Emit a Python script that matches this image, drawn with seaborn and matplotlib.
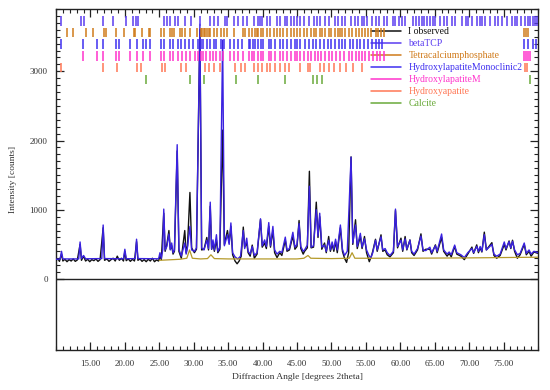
import pandas as pd
import matplotlib
matplotlib.use("Agg")
import matplotlib.pyplot as plt
import seaborn as sns
from matplotlib.lines import Line2D
from matplotlib.ticker import FixedLocator, MultipleLocator

# -------------------------------
# Pattern data (2theta, counts)
# -------------------------------

observed_points = [
    (10.0, 270), (10.3, 290), (10.5, 255), (10.8, 360), (11.0, 260), (11.3, 285),
    (11.6, 250), (11.9, 280), (12.2, 260), (12.5, 290), (12.8, 255), (13.1, 275),
    (13.5, 500), (13.7, 270), (14.0, 330), (14.3, 260), (14.6, 285), (14.9, 250),
    (15.2, 280), (15.5, 265), (15.8, 290), (16.1, 255), (16.4, 280), (16.85, 740),
    (17.05, 270), (17.4, 290), (17.7, 255), (18.0, 280), (18.3, 300), (18.6, 260),
    (18.9, 330), (19.2, 270), (19.5, 300), (19.8, 260), (20.0, 400), (20.2, 265),
    (20.5, 290), (20.8, 255), (21.1, 285), (21.4, 260), (21.7, 540), (21.9, 270),
    (22.2, 290), (22.5, 255), (22.8, 280), (23.1, 250), (23.4, 285), (23.7, 260),
    (24.0, 300), (24.3, 250), (24.6, 275), (24.9, 260), (25.1, 330), (25.3, 280),
    (25.65, 950), (25.85, 400), (26.1, 500), (26.4, 700), (26.6, 430), (26.8, 480),
    (27.0, 360), (27.2, 400), (27.6, 1850), (27.85, 400), (28.2, 300), (28.7, 700),
    (28.9, 380), (29.1, 480), (29.45, 1250), (29.7, 450), (30.1, 380), (30.4, 430),
    (30.9, 3600), (31.15, 420), (31.5, 430), (31.9, 600), (32.15, 420), (32.4, 1050),
    (32.6, 430), (32.8, 520), (33.0, 400), (33.3, 560), (33.5, 380), (33.8, 430),
    (34.2, 2150), (34.45, 500), (34.9, 700), (35.15, 520), (35.4, 760), (35.65, 350),
    (36.0, 260), (36.3, 220), (36.6, 260), (36.9, 330), (37.2, 750), (37.4, 460),
    (37.7, 520), (37.9, 380), (38.2, 330), (38.5, 490), (38.8, 300), (39.2, 360),
    (39.7, 860), (39.95, 460), (40.3, 520), (40.55, 440), (40.9, 760), (41.15, 460),
    (41.5, 700), (41.75, 380), (42.1, 310), (42.5, 380), (42.8, 340), (43.3, 560),
    (43.55, 400), (43.9, 420), (44.4, 620), (44.7, 430), (45.0, 470), (45.3, 845),
    (45.55, 440), (45.9, 360), (46.1, 400), (46.5, 450), (46.8, 1556), (47.05, 450),
    (47.4, 460), (47.8, 1110), (48.05, 600), (48.3, 900), (48.6, 430), (49.0, 520),
    (49.25, 380), (49.6, 614), (49.85, 400), (50.1, 500), (50.35, 400), (50.6, 540),
    (50.85, 380), (51.3, 740), (51.6, 400), (51.9, 300), (52.2, 240), (52.5, 380),
    (52.85, 1764), (53.1, 500), (53.5, 856), (53.75, 440), (54.2, 620), (54.45, 440),
    (54.8, 614), (55.1, 380), (55.5, 250), (55.8, 330), (56.0, 400), (56.4, 574),
    (56.65, 400), (57.2, 638), (57.45, 400), (57.8, 420), (58.1, 350), (58.5, 320),
    (59.0, 380), (59.3, 990), (59.6, 450), (60.1, 590), (60.35, 400), (60.7, 614),
    (60.95, 420), (61.4, 565), (61.65, 380), (62.0, 340), (62.5, 420), (63.0, 652),
    (63.3, 400), (63.7, 430), (64.3, 430), (64.55, 360), (65.1, 493), (65.35, 380),
    (66.0, 600), (66.3, 400), (66.8, 330), (67.1, 370), (67.4, 320), (67.9, 470),
    (68.2, 360), (68.8, 330), (69.3, 280), (69.8, 360), (70.4, 461), (70.65, 370),
    (71.1, 493), (71.35, 380), (71.6, 450), (71.85, 390), (72.2, 677), (72.5, 420),
    (73.3, 525), (73.6, 340), (74.0, 300), (74.5, 340), (75.1, 500), (75.35, 420),
    (75.8, 550), (76.05, 440), (76.3, 560), (76.6, 400), (77.0, 300), (77.4, 350),
    (78.0, 500), (78.3, 350), (78.7, 400), (79.0, 330), (79.4, 390), (80.0, 370),
]

calculated_points = [
    (10.0, 285), (10.6, 288), (10.8, 400), (11.0, 290), (13.3, 290), (13.5, 535),
    (13.7, 295), (14.0, 340), (14.3, 292), (16.65, 295), (16.85, 780), (17.05, 295),
    (19.8, 292), (20.0, 430), (20.2, 292), (21.5, 295), (21.7, 575), (21.9, 295),
    (24.9, 292), (25.1, 380), (25.3, 300), (25.5, 420), (25.65, 1010), (25.85, 420),
    (26.1, 470), (26.4, 650), (26.6, 420), (26.8, 520), (27.0, 380), (27.2, 420),
    (27.6, 1940), (27.85, 430), (28.2, 330), (28.7, 520), (28.9, 360), (29.1, 460),
    (29.45, 760), (29.7, 420), (30.1, 400), (30.4, 450), (30.9, 3680), (31.15, 450),
    (31.5, 420), (31.9, 560), (32.15, 440), (32.4, 1110), (32.6, 430), (32.8, 565),
    (33.0, 420), (33.3, 640), (33.5, 400), (33.8, 460), (34.2, 3450), (34.45, 480),
    (34.9, 640), (35.15, 500), (35.4, 810), (35.65, 380), (36.0, 320), (36.4, 290),
    (36.8, 330), (37.2, 700), (37.4, 440), (37.7, 590), (37.9, 400), (38.2, 360),
    (38.5, 470), (38.8, 340), (39.2, 380), (39.7, 870), (39.95, 480), (40.3, 565),
    (40.55, 470), (40.9, 815), (41.15, 480), (41.5, 760), (41.75, 420), (42.1, 360),
    (42.5, 400), (42.8, 380), (43.3, 605), (43.55, 420), (43.9, 440), (44.4, 675),
    (44.7, 460), (45.0, 500), (45.3, 800), (45.55, 470), (45.9, 400), (46.1, 420),
    (46.5, 490), (46.8, 1340), (47.05, 460), (47.4, 480), (47.8, 1000), (48.05, 620),
    (48.3, 950), (48.6, 460), (49.0, 490), (49.25, 400), (49.6, 560), (49.85, 420),
    (50.1, 535), (50.35, 430), (50.6, 575), (50.85, 420), (51.3, 780), (51.6, 430),
    (51.9, 340), (52.3, 400), (52.85, 1760), (53.1, 520), (53.5, 780), (53.75, 470),
    (54.2, 660), (54.45, 460), (54.8, 580), (55.1, 420), (55.4, 350), (55.7, 300),
    (56.0, 380), (56.4, 560), (56.65, 420), (57.2, 610), (57.45, 420), (57.8, 440),
    (58.1, 380), (58.5, 340), (59.0, 400), (59.3, 1010), (59.6, 470), (60.1, 560),
    (60.35, 420), (60.7, 580), (60.95, 430), (61.4, 560), (61.65, 400), (62.0, 360),
    (62.5, 440), (63.0, 620), (63.3, 420), (63.7, 410), (64.3, 460), (64.55, 380),
    (65.1, 480), (65.35, 400), (66.0, 650), (66.3, 420), (66.8, 360), (67.1, 390),
    (67.4, 350), (67.9, 490), (68.2, 380), (68.8, 350), (69.3, 310), (69.8, 380),
    (70.4, 440), (70.65, 380), (71.1, 470), (71.35, 400), (71.6, 470), (71.85, 400),
    (72.2, 640), (72.5, 420), (73.3, 500), (73.6, 360), (74.0, 330), (74.5, 360),
    (75.1, 535), (75.35, 440), (75.8, 540), (76.05, 450), (76.3, 545), (76.6, 420),
    (77.0, 350), (77.4, 370), (78.0, 520), (78.3, 370), (78.7, 420), (79.0, 360),
    (79.4, 400), (80.0, 380),
]

background_points = [
    (25.0, 270), (26.0, 275), (27.0, 280), (28.0, 285), (29.0, 300), (29.4, 420),
    (29.8, 300), (31.0, 290), (32.0, 295), (32.5, 350), (33.0, 295), (35.0, 290),
    (40.0, 290), (45.0, 290), (46.0, 300), (46.6, 340), (47.0, 300), (50.0, 295),
    (52.6, 300), (53.0, 380), (53.4, 300), (60.0, 300), (70.0, 305), (80.0, 315),
]

# -------------------------------
# Reflection positions (2theta) per phase
# -------------------------------

phase_names = [
    "betaTCP", "Tetracalciumphosphate", "HydroxylapatiteMonoclinic2",
    "HydroxylapatiteM", "Hydroxyapatite", "Calcite",
]

beta_tcp = [
    10.7, 13.6, 14.1, 16.8, 18.3, 20.1, 21.2, 21.6, 21.9, 25.65, 26.1, 26.5, 27.3,
    27.7, 28.7, 29.6, 30.96, 32.4, 33.0, 33.6, 34.6, 34.9, 35.8, 36.4, 37.1, 37.7,
    38.7, 39.4, 39.66, 39.9, 40.6, 41.1, 42.1, 42.6, 43.3, 43.5, 44.1, 44.6, 45.0,
    45.5, 46.0, 46.7, 47.4, 47.9, 48.4, 49.1, 49.6, 50.5, 51.0, 51.5, 52.0, 52.9,
    53.4, 53.9, 54.4, 54.7, 55.2, 55.9, 56.4, 56.9, 57.6, 58.1, 59.0, 59.3, 59.8,
    60.3, 60.7, 61.9, 62.3, 62.7, 63.1, 63.5, 63.9, 64.3, 64.7, 65.1, 65.8, 66.3,
    66.8, 67.5, 68.0, 68.9, 69.5, 69.9, 70.4, 71.1, 71.6, 71.9, 72.3, 73.0, 73.8,
    74.2, 74.7, 75.5, 76.2, 76.7, 77.0, 77.6, 78.1, 78.6, 78.8, 79.2, 79.6, 79.9,
]

tetracalcium = [
    11.6, 12.4, 14.4, 15.4, 16.95, 17.2, 18.65, 19.85, 21.3, 21.5, 22.5, 23.5, 23.7,
    25.3, 25.65, 26.6, 26.9, 27.2, 28.0, 28.3, 28.8, 29.4, 30.5, 31.0, 31.2, 31.45,
    31.7, 31.9, 32.2, 32.4, 33.0, 33.4, 33.9, 34.35, 34.8, 35.8, 37.2, 37.5, 38.0,
    38.4, 38.9, 39.2, 39.4, 39.7, 40.1, 40.6, 41.1, 41.6, 42.1, 42.6, 43.0, 43.5,
    44.1, 44.5, 45.0, 45.5, 46.0, 46.5, 47.1, 47.4, 47.8, 48.3, 48.6, 49.0, 49.6,
    50.0, 50.5, 51.0, 51.3, 51.6, 52.0, 52.5, 53.0, 53.5, 54.0, 54.4, 54.9, 55.3,
    55.8, 56.4, 56.8, 57.2, 57.7, 77.9, 78.2, 78.6,
]

hap_monoclinic = [
    10.7, 13.96, 16.0, 16.8, 18.65, 19.1, 20.7, 21.8, 22.65, 23.0, 23.6, 25.3, 25.75,
    26.5, 27.0, 27.7, 28.2, 28.8, 29.3, 29.9, 30.6, 31.0, 31.35, 31.9, 32.4, 32.9,
    33.3, 33.9, 34.35, 35.3, 35.8, 36.4, 37.0, 38.0, 38.2, 38.6, 38.9, 39.3, 39.7,
    40.1, 40.9, 41.2, 41.8, 42.6, 43.0, 43.5, 44.1, 44.7, 45.0, 45.5, 46.1, 46.8,
    47.3, 47.8, 48.4, 48.9, 49.5, 50.0, 50.5, 51.1, 51.5, 52.0, 52.75, 53.2, 53.7,
    54.2, 54.7, 55.3, 55.9, 56.4, 56.9, 57.4, 77.9, 78.6, 79.2, 79.7,
]

hap_m = [
    13.96, 16.0, 16.85, 18.65, 19.1, 20.7, 21.8, 22.65, 23.6, 25.3, 25.75, 26.5,
    27.0, 27.7, 28.3, 28.9, 29.5, 30.2, 30.6, 31.0, 31.35, 31.8, 32.3, 32.8, 33.3,
    33.75, 34.25, 35.3, 35.8, 36.5, 37.2, 38.0, 38.45, 38.8, 39.3, 39.7, 40.1, 40.9,
    41.2, 41.8, 42.6, 43.0, 43.5, 44.1, 44.7, 45.0, 45.5, 46.0, 46.6, 47.1, 47.6,
    48.1, 48.5, 49.1, 49.6, 50.1, 50.7, 51.3, 51.8, 52.5, 53.0, 53.5, 54.0, 54.4,
    54.9, 55.5, 56.0, 56.6, 57.1, 57.6, 77.9, 78.2, 78.6, 78.8,
]

hydroxyapatite = [
    10.8, 16.8, 18.9, 21.8, 22.3, 25.4, 25.9, 28.1, 28.9, 31.7, 32.2, 32.9, 33.75,
    36.0, 36.8, 37.5, 38.7, 39.3, 39.9, 40.6, 41.1, 41.8, 42.6, 43.2, 43.9, 45.4,
    46.6, 46.9, 48.3, 48.9, 49.6, 50.4, 51.3, 52.1, 53.1, 54.5, 78.1, 78.4,
]

calcite = [23.1, 29.4, 31.5, 36.1, 39.4, 43.2, 47.3, 47.9, 48.6, 78.8]

# -------------------------------
# Styles
# -------------------------------

phase_colors = ["#5a3cf0", "#d07a1a", "#3f2ff0", "#ff33cc", "#ff7755", "#6aaa3a"]
row_centers = [3725, 3558, 3393, 3220, 3052, 2885]
observed_color = "#111111"
calc_color = "#3a22e0"
background_color = "#b59a2a"

obs_df = pd.DataFrame(observed_points, columns=["angle", "counts"])
calc_df = pd.DataFrame(calculated_points, columns=["angle", "counts"])
bg_df = pd.DataFrame(background_points, columns=["angle", "counts"])

sns.set_theme(style="white")
plt.rcParams["font.family"] = ["Liberation Serif", "DejaVu Serif"]

fig = plt.figure(figsize=(5.5, 3.9), dpi=100)
ax = fig.add_axes([0.1018, 0.1026, 0.8764, 0.8744])

sns.lineplot(data=obs_df, x="angle", y="counts", ax=ax, color=observed_color,
             lw=1.0, sort=False, estimator=None, legend=False, zorder=3)
sns.lineplot(data=calc_df, x="angle", y="counts", ax=ax, color=calc_color,
             lw=1.0, sort=False, estimator=None, legend=False, zorder=4)
sns.lineplot(data=bg_df, x="angle", y="counts", ax=ax, color=background_color,
             lw=0.9, sort=False, estimator=None, legend=False, zorder=5)

ax.axhline(0, color="#222222", lw=1.0, zorder=2)

# reflection tick rows
phase_lists = [beta_tcp, tetracalcium, hap_monoclinic, hap_m, hydroxyapatite, calcite]
for positions, color, yc in zip(phase_lists, phase_colors, row_centers):
    ax.vlines(positions, yc - 68, yc + 68, colors=color, lw=1.1, zorder=6)

ax.set_xlim(10, 80)
ax.set_ylim(-1025, 3900)

ax.xaxis.set_major_locator(FixedLocator(list(range(15, 80, 5))))
ax.xaxis.set_minor_locator(MultipleLocator(1))
ax.set_xticklabels([f"{v:.2f}" for v in range(15, 80, 5)])
ax.yaxis.set_major_locator(FixedLocator([0, 1000, 2000, 3000]))
ax.yaxis.set_minor_locator(FixedLocator(list(range(0, 3901, 100))))
ax.set_yticklabels(["0", "1000", "2000", "3000"])

ax.tick_params(which="both", direction="in", top=True, right=True, bottom=True,
               left=True, color="#222222", labelcolor="#333333", labelsize=6.5)
ax.tick_params(which="major", length=5.5, width=0.9)
ax.tick_params(which="minor", length=2.8, width=0.8)
ax.tick_params(axis="x", pad=7)
ax.tick_params(axis="y", pad=6)

for side in ax.spines.values():
    side.set_color("#222222")
    side.set_linewidth(1.0)

ax.set_xlabel("Diffraction Angle [degrees 2theta]", fontsize=6.8, color="#333333", labelpad=4)
ax.set_ylabel("Intensity [counts]", fontsize=6.8, color="#333333", labelpad=9)

# legend
legend_names = ["I observed"] + phase_names
legend_colors = [observed_color] + phase_colors
handles = [Line2D([], [], color=c, lw=1.1) for c in legend_colors]
leg = ax.legend(handles, legend_names, loc="upper left", bbox_to_anchor=(0.6535, 0.946),
                frameon=False, fontsize=7, handlelength=3.1, handletextpad=0.75,
                labelspacing=0.31, borderpad=0, borderaxespad=0)
for text, c in zip(leg.get_texts(), legend_colors):
    text.set_color(c)

fig.savefig("out.png", dpi=100)
